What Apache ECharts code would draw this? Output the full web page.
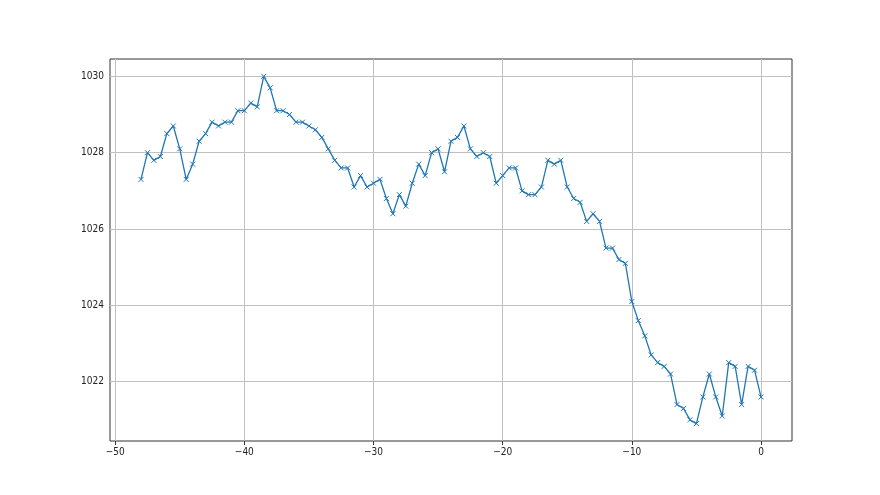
<!DOCTYPE html>
<html>
<head>
<meta charset="utf-8">
<script src="https://cdn.jsdelivr.net/npm/echarts@6/dist/echarts.min.js"></script>
<style>html,body{margin:0;padding:0;background:#fff}#c{width:880px;height:495px}</style>
</head>
<body>
<div id="c"></div>
<script>
const hours = [];
for (let i = 0; i < 97; i++) hours.push(-48 + i * 0.5);
const pressure = [
  1027.3, 1028.0, 1027.8, 1027.9, 1028.5, 1028.7, 1028.1, 1027.3, 1027.7, 1028.3,
  1028.5, 1028.8, 1028.7, 1028.8, 1028.8, 1029.1, 1029.1, 1029.3, 1029.2, 1030.0,
  1029.7, 1029.1, 1029.1, 1029.0, 1028.8, 1028.8, 1028.7, 1028.6, 1028.4, 1028.1,
  1027.8, 1027.6, 1027.6, 1027.1, 1027.4, 1027.1, 1027.2, 1027.3, 1026.8, 1026.4,
  1026.9, 1026.6, 1027.2, 1027.7, 1027.4, 1028.0, 1028.1, 1027.5, 1028.3, 1028.4,
  1028.7, 1028.1, 1027.9, 1028.0, 1027.9, 1027.2, 1027.4, 1027.6, 1027.6, 1027.0,
  1026.9, 1026.9, 1027.1, 1027.8, 1027.7, 1027.8, 1027.1, 1026.8, 1026.7, 1026.2,
  1026.4, 1026.2, 1025.5, 1025.5, 1025.2, 1025.1, 1024.1, 1023.6, 1023.2, 1022.7,
  1022.5, 1022.4, 1022.2, 1021.4, 1021.3, 1021.0, 1020.9, 1021.6, 1022.2, 1021.6,
  1021.1, 1022.5, 1022.4, 1021.4, 1022.4, 1022.3, 1021.6
];
const xTicks = [-50, -40, -30, -20, -10, 0];
const yTicks = [1022, 1024, 1026, 1028, 1030];

const chart = echarts.init(document.getElementById('c'), null, {renderer: 'canvas'});
const lbl = {color: '#222', fontSize: 10, fontFamily: "'Liberation Sans Narrow', 'DejaVu Sans Condensed', 'Liberation Sans'"};
const gridLines = xTicks.map(v => ({xAxis: v})).concat(yTicks.map(v => ({yAxis: v})));
chart.setOption({
  animation: false,
  grid: {left: 110, right: 88, top: 59, bottom: 54, show: true, borderColor: '#333', borderWidth: 1, backgroundColor: 'transparent'},
  xAxis: {
    type: 'value', min: -50.4, max: 2.4,
    axisLine: {show: false},
    axisTick: {show: true, customValues: xTicks, length: 4, lineStyle: {color: '#333'}},
    axisLabel: {customValues: xTicks, ...lbl, margin: 6, formatter: v => (v < 0 ? '\u2212' + Math.abs(v) : String(v))},
    splitLine: {show: false}
  },
  yAxis: {
    type: 'value', min: 1020.445, max: 1030.455,
    axisLine: {show: false},
    axisTick: {show: true, customValues: yTicks, length: 4, lineStyle: {color: '#333'}},
    axisLabel: {customValues: yTicks, ...lbl, margin: 6, formatter: v => String(v)},
    splitLine: {show: false}
  },
  series: [{
    type: 'line',
    data: hours.map((h, i) => [h, pressure[i]]),
    lineStyle: {color: '#1f77b4', width: 1.3},
    symbol: 'path://M0,0L10,10M10,0L0,10',
    symbolSize: 5,
    showAllSymbol: true,
    z: 3,
    itemStyle: {color: 'rgba(0,0,0,0)', borderColor: '#1f77b4', borderWidth: 1},
    emphasis: {disabled: true},
    markLine: {
      silent: true, symbol: 'none', label: {show: false}, animation: false, z: 1,
      lineStyle: {color: '#c0c0c0', width: 1, type: 'solid'},
      emphasis: {disabled: true},
      data: gridLines
    }
  }]
});
</script>
</body>
</html>
